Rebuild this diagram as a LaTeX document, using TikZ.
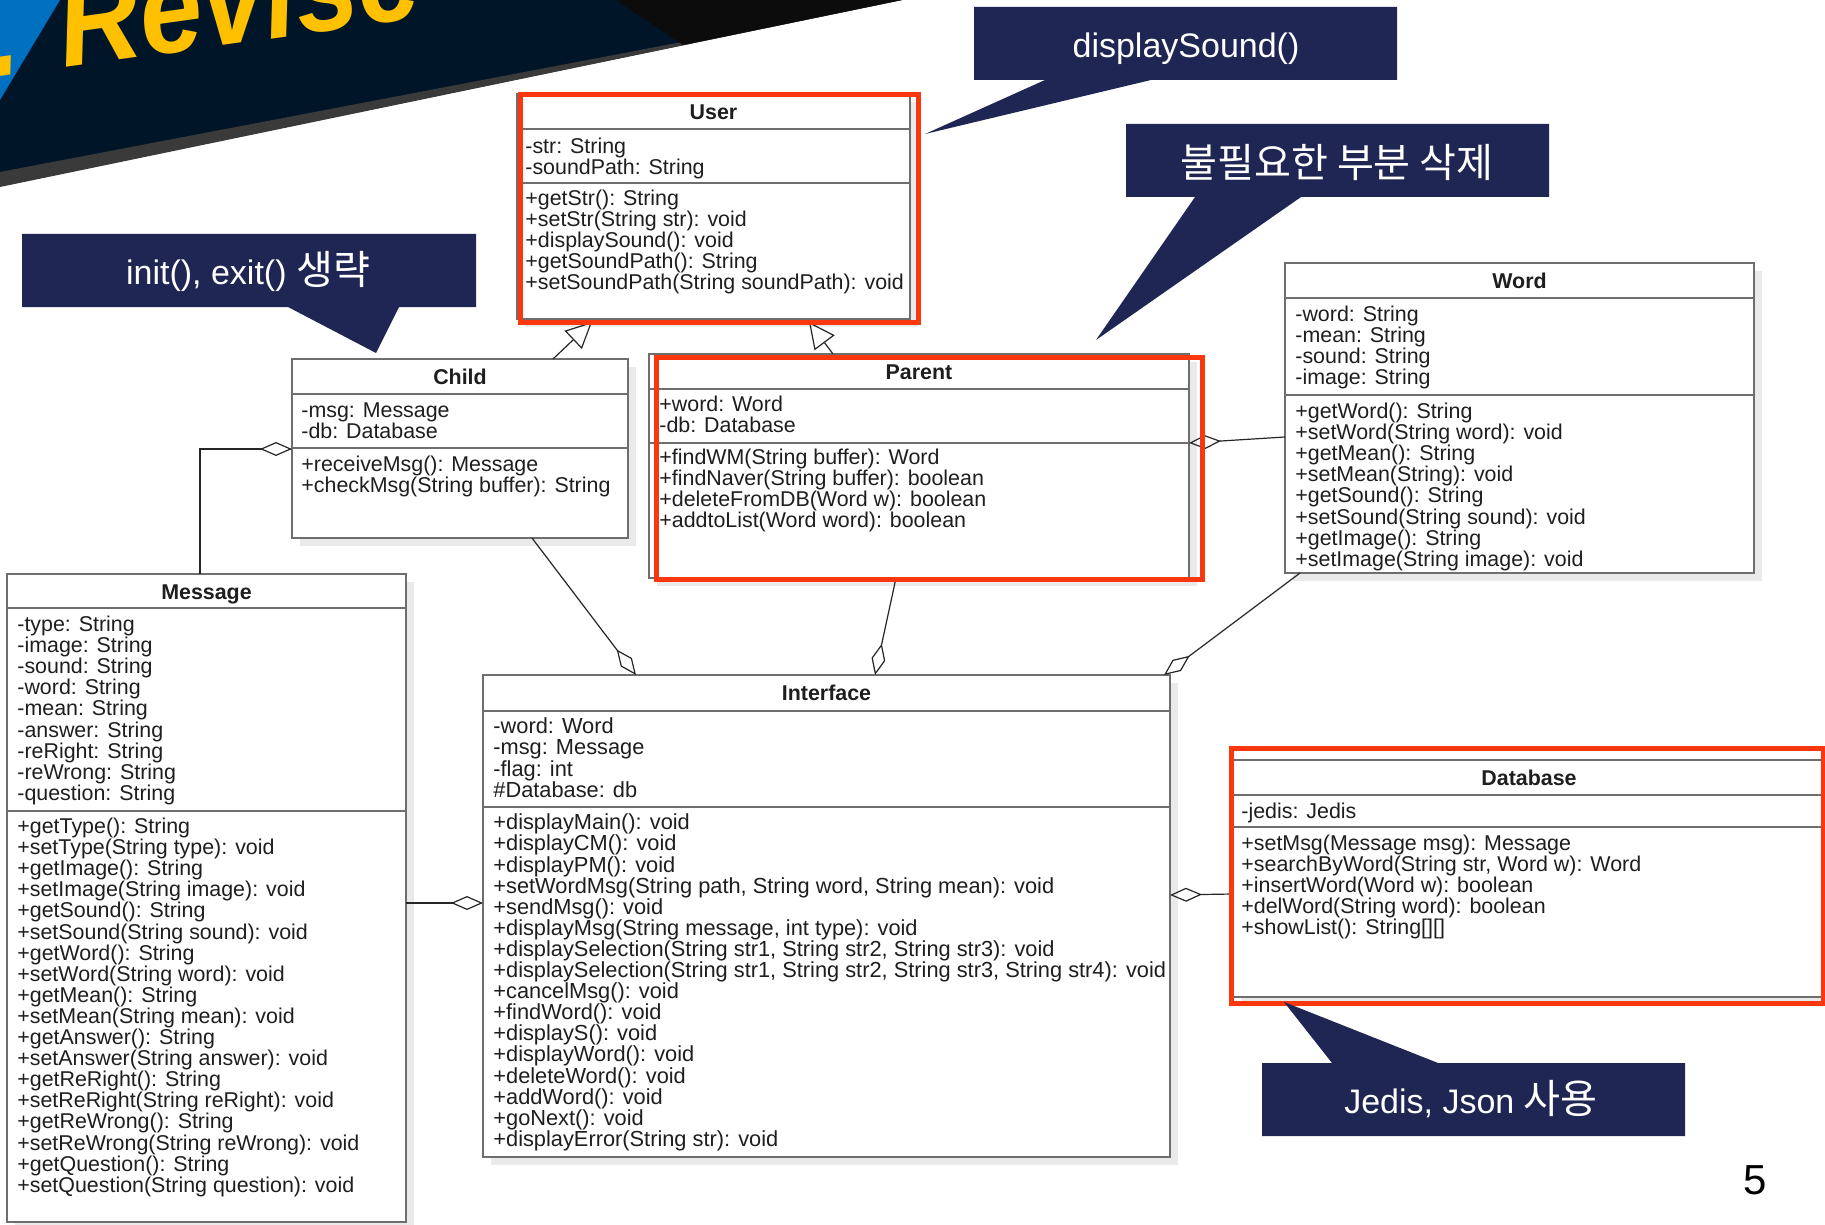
\documentclass[tikz,border=0pt]{standalone}
\usepackage{fontspec}
\setmainfont{Liberation Sans}
\newfontfamily\krfont[Scale=1.18]{Noto Sans CJK KR}
\newfontfamily\bannerfont[FakeStretch=0.88]{Liberation Sans}
\usetikzlibrary{arrows.meta,calc,fit}
\definecolor{calloutc}{RGB}{31,38,84}
\definecolor{hilite}{RGB}{250,55,15}
\definecolor{bannernavy}{RGB}{0,22,40}
\definecolor{bannerblack}{RGB}{12,12,12}
\definecolor{bannerblue}{RGB}{0,112,192}
\definecolor{bannergrey}{RGB}{58,58,58}
\definecolor{bannergold}{RGB}{255,192,0}
\definecolor{umlline}{RGB}{110,110,110}
\definecolor{umltext}{RGB}{30,30,30}
\definecolor{shadowc}{RGB}{234,234,234}
\newcommand\umlfont{\fontsize{10.7}{10.55}\selectfont}
\newcommand\umlwidefont{\fontsize{10.9}{10.55}\selectfont}
\tikzset{
  classbox/.style={draw=umlline, line width=1pt, fill=white, inner sep=0pt, outer sep=0pt},
  sepline/.style={draw=umlline, line width=1pt},
  comp/.style={anchor=north west, inner sep=0pt, align=left, font=\umlfont, text=umltext, yshift=4.7pt, execute at begin node=\strut},
  ctitle/.style={anchor=base, inner sep=0pt, font=\umlfont\bfseries, text=umltext, yshift=0.6pt},
  hibox/.style={draw=hilite, line width=2.5pt},
  assoc/.style={draw=black!85, line width=0.6pt},
  aggr/.style={assoc, -{Diamond[open, length=16pt, width=7pt]}},
  inherit/.style={assoc, -{Triangle[open, length=13pt, width=12.5pt]}},
  callout/.style={fill=calloutc},
  calltext/.style={inner sep=0pt, text=white, font=\fontsize{17}{20}\selectfont},
}
\newcommand\umlclass[7]{%
  \fill[shadowc] ({#2+8},{#3+8}) rectangle ({#4+8},{#5+8});
  \node[classbox, fit={(#2,#3) (#4,#5)}] (#1) {};
  \draw[sepline] (#2,#6) -- (#4,#6) (#2,#7) -- (#4,#7);
}
\begin{document}
\begin{tikzpicture}[x=0.5pt,y=-0.5pt]
\path[use as bounding box] (0,0) rectangle (1825,1225);
\clip (0,0) rectangle (1825,1225);
\fill[white] (0,0) rectangle (1825,1225);
% banner
\fill[bannernavy] (0,0) -- (902,0) -- (0,186) -- cycle;
\fill[bannergrey] (0,172) -- (902,0) -- (0,187) -- cycle;
\fill[bannerblack] (616,0) -- (902,0) -- (683,45) -- cycle;
\fill[bannerblue] (0,0) -- (60,0) -- (0,100) -- cycle;
\node[anchor=base west, inner sep=0pt, rotate=8, text=bannergold, font=\bannerfont\fontsize{64}{66}\selectfont\bfseries\itshape] (banner) at (-8,78) {. Revise};

% classes
\umlclass{user}{517}{94}{910}{319}{129}{183}
\node[ctitle] (user-t) at (713.5,120.4) {User};
\node[comp] (user-a) at (525,147) {-str: String\\-soundPath: String};
\node[comp] (user-m) at (525,199) {+getStr(): String\\+setStr(String str): void\\+displaySound(): void\\+getSoundPath(): String\\+setSoundPath(String soundPath): void};

\umlclass{child}{292}{359}{628}{538}{394}{448}
\node[ctitle] (child-t) at (460,385.4) {Child};
\node[comp] (child-a) at (301,412) {-msg: Message\\-db: Database};
\node[comp] (child-m) at (301,465) {+receiveMsg(): Message\\+checkMsg(String buffer): String};

\umlclass{parent}{649}{354}{1189}{578}{389}{443}
\node[ctitle] (parent-t) at (919,380.4) {Parent};
\node[comp] (parent-a) at (659,405) {+word: Word\\-db: Database};
\node[comp] (parent-m) at (659,458) {+findWM(String buffer): Word\\+findNaver(String buffer): boolean\\+deleteFromDB(Word w): boolean\\+addtoList(Word word): boolean};

\umlclass{word}{1285}{263}{1754}{573}{298}{395}
\node[ctitle] (word-t) at (1519.5,289.4) {Word};
\node[comp] (word-a) at (1295,315) {-word: String\\-mean: String\\-sound: String\\-image: String};
\node[comp] (word-m) at (1295,412) {+getWord(): String\\+setWord(String word): void\\+getMean(): String\\+setMean(String): void\\+getSound(): String\\+setSound(String sound): void\\+getImage(): String\\+setImage(String image): void};

\umlclass{message}{7}{574}{406}{1222}{608}{811}
\node[ctitle] (message-t) at (206.5,600.4) {Message};
\node[comp] (message-a) at (17,625) {-type: String\\-image: String\\-sound: String\\-word: String\\-mean: String\\-answer: String\\-reRight: String\\-reWrong: String\\-question: String};
\node[comp] (message-m) at (17,827) {+getType(): String\\+setType(String type): void\\+getImage(): String\\+setImage(String image): void\\+getSound(): String\\+setSound(String sound): void\\+getWord(): String\\+setWord(String word): void\\+getMean(): String\\+setMean(String mean): void\\+getAnswer(): String\\+setAnswer(String answer): void\\+getReRight(): String\\+setReRight(String reRight): void\\+getReWrong(): String\\+setReWrong(String reWrong): void\\+getQuestion(): String\\+setQuestion(String question): void};

\umlclass{interface}{483}{675}{1170}{1157}{711}{807}
\node[ctitle] (interface-t) at (826.5,701.4) {Interface};
\node[comp, font=\umlwidefont] (interface-a) at (493,727) {-word: Word\\-msg: Message\\-flag: int\\\#Database: db};
\node[comp, font=\umlwidefont] (interface-m) at (493,823) {+displayMain(): void\\+displayCM(): void\\+displayPM(): void\\+setWordMsg(String path, String word, String mean): void\\+sendMsg(): void\\+displayMsg(String message, int type): void\\+displaySelection(String str1, String str2, String str3): void\\+displaySelection(String str1, String str2, String str3, String str4): void\\+cancelMsg(): void\\+findWord(): void\\+displayS(): void\\+displayWord(): void\\+deleteWord(): void\\+addWord(): void\\+goNext(): void\\+displayError(String str): void};

\umlclass{database}{1233}{760}{1826}{997}{795}{827}
\node[ctitle] (database-t) at (1529,786.4) {Database};
\node[comp] (database-a) at (1241,812) {-jedis: Jedis};
\node[comp] (database-m) at (1241,844) {+setMsg(Message msg): Message\\+searchByWord(String str, Word w): Word\\+insertWord(Word w): boolean\\+delWord(String word): boolean\\+showList(): String[][]};

% connectors
\draw[inherit] ($(child.north west)+(261,0)$) -- ($(user.south west)+(75,3)$);
\draw[inherit] ($(parent.north west)+(184,0)$) -- ($(user.south west)+(292,3)$);
\draw[aggr] ($(message.north west)+(193,0)$) |- ($(child.north west)+(0,90)$);
\draw[aggr] ($(child.south west)+(240,0)$) -- ($(interface.north west)+(153,0)$);
\draw[aggr] ($(parent.south west)+(247,0)$) -- ($(interface.north west)+(392,0)$);
\draw[aggr] ($(word.south west)+(15,0)$) -- ($(interface.north east)+(-6,0)$);
\draw[aggr] ($(word.north west)+(0,174)$) -- ($(parent.north east)+(0,89)$);
\draw[aggr] ($(message.north east)+(0,329)$) -- ($(interface.north west)+(0,228)$);
\draw[aggr] ($(database.north west)+(0,134)$) -- ($(interface.north east)+(0,220)$);

% highlights
\draw[hibox] (520,95) rectangle (918,322);
\draw[hibox] (656,357) rectangle (1202,579);
\draw[hibox] (1231,748) rectangle (1823,1003);

% callouts
\fill[callout] (974,7) -- (1397,7) -- (1397,80) -- (1151,80) -- (925,134) -- (1045,80) -- (974,80) -- cycle;
\node[calltext, anchor=base] (c-sound) at (1186,58) {displaySound()};
\fill[callout] (1126,124) -- (1549,124) -- (1549,197) -- (1301,197) -- (1096,340) -- (1195,197) -- (1126,197) -- cycle;
\node[calltext, font=\krfont\fontsize{17}{20}\selectfont] (c-del) at (1337,162) {불필요한 부분 삭제};
\fill[callout] (22,234) -- (476,234) -- (476,307) -- (399,307) -- (376,353) -- (288,307) -- (22,307) -- cycle;
\node[calltext, anchor=base] (c-init) at (248,285) {init(), exit() {\krfont 생략}};
\fill[callout] (1262,1063) -- (1332,1063) -- (1284,1002) -- (1438,1063) -- (1685,1063) -- (1685,1136) -- (1262,1136) -- cycle;
\node[calltext, anchor=base] (c-jedis) at (1471,1113) {Jedis, Json {\krfont 사용}};

\node[inner sep=0pt, font=\fontsize{21}{24}\selectfont] (pagenum) at (1755,1180) {5};
\end{tikzpicture}
\end{document}
